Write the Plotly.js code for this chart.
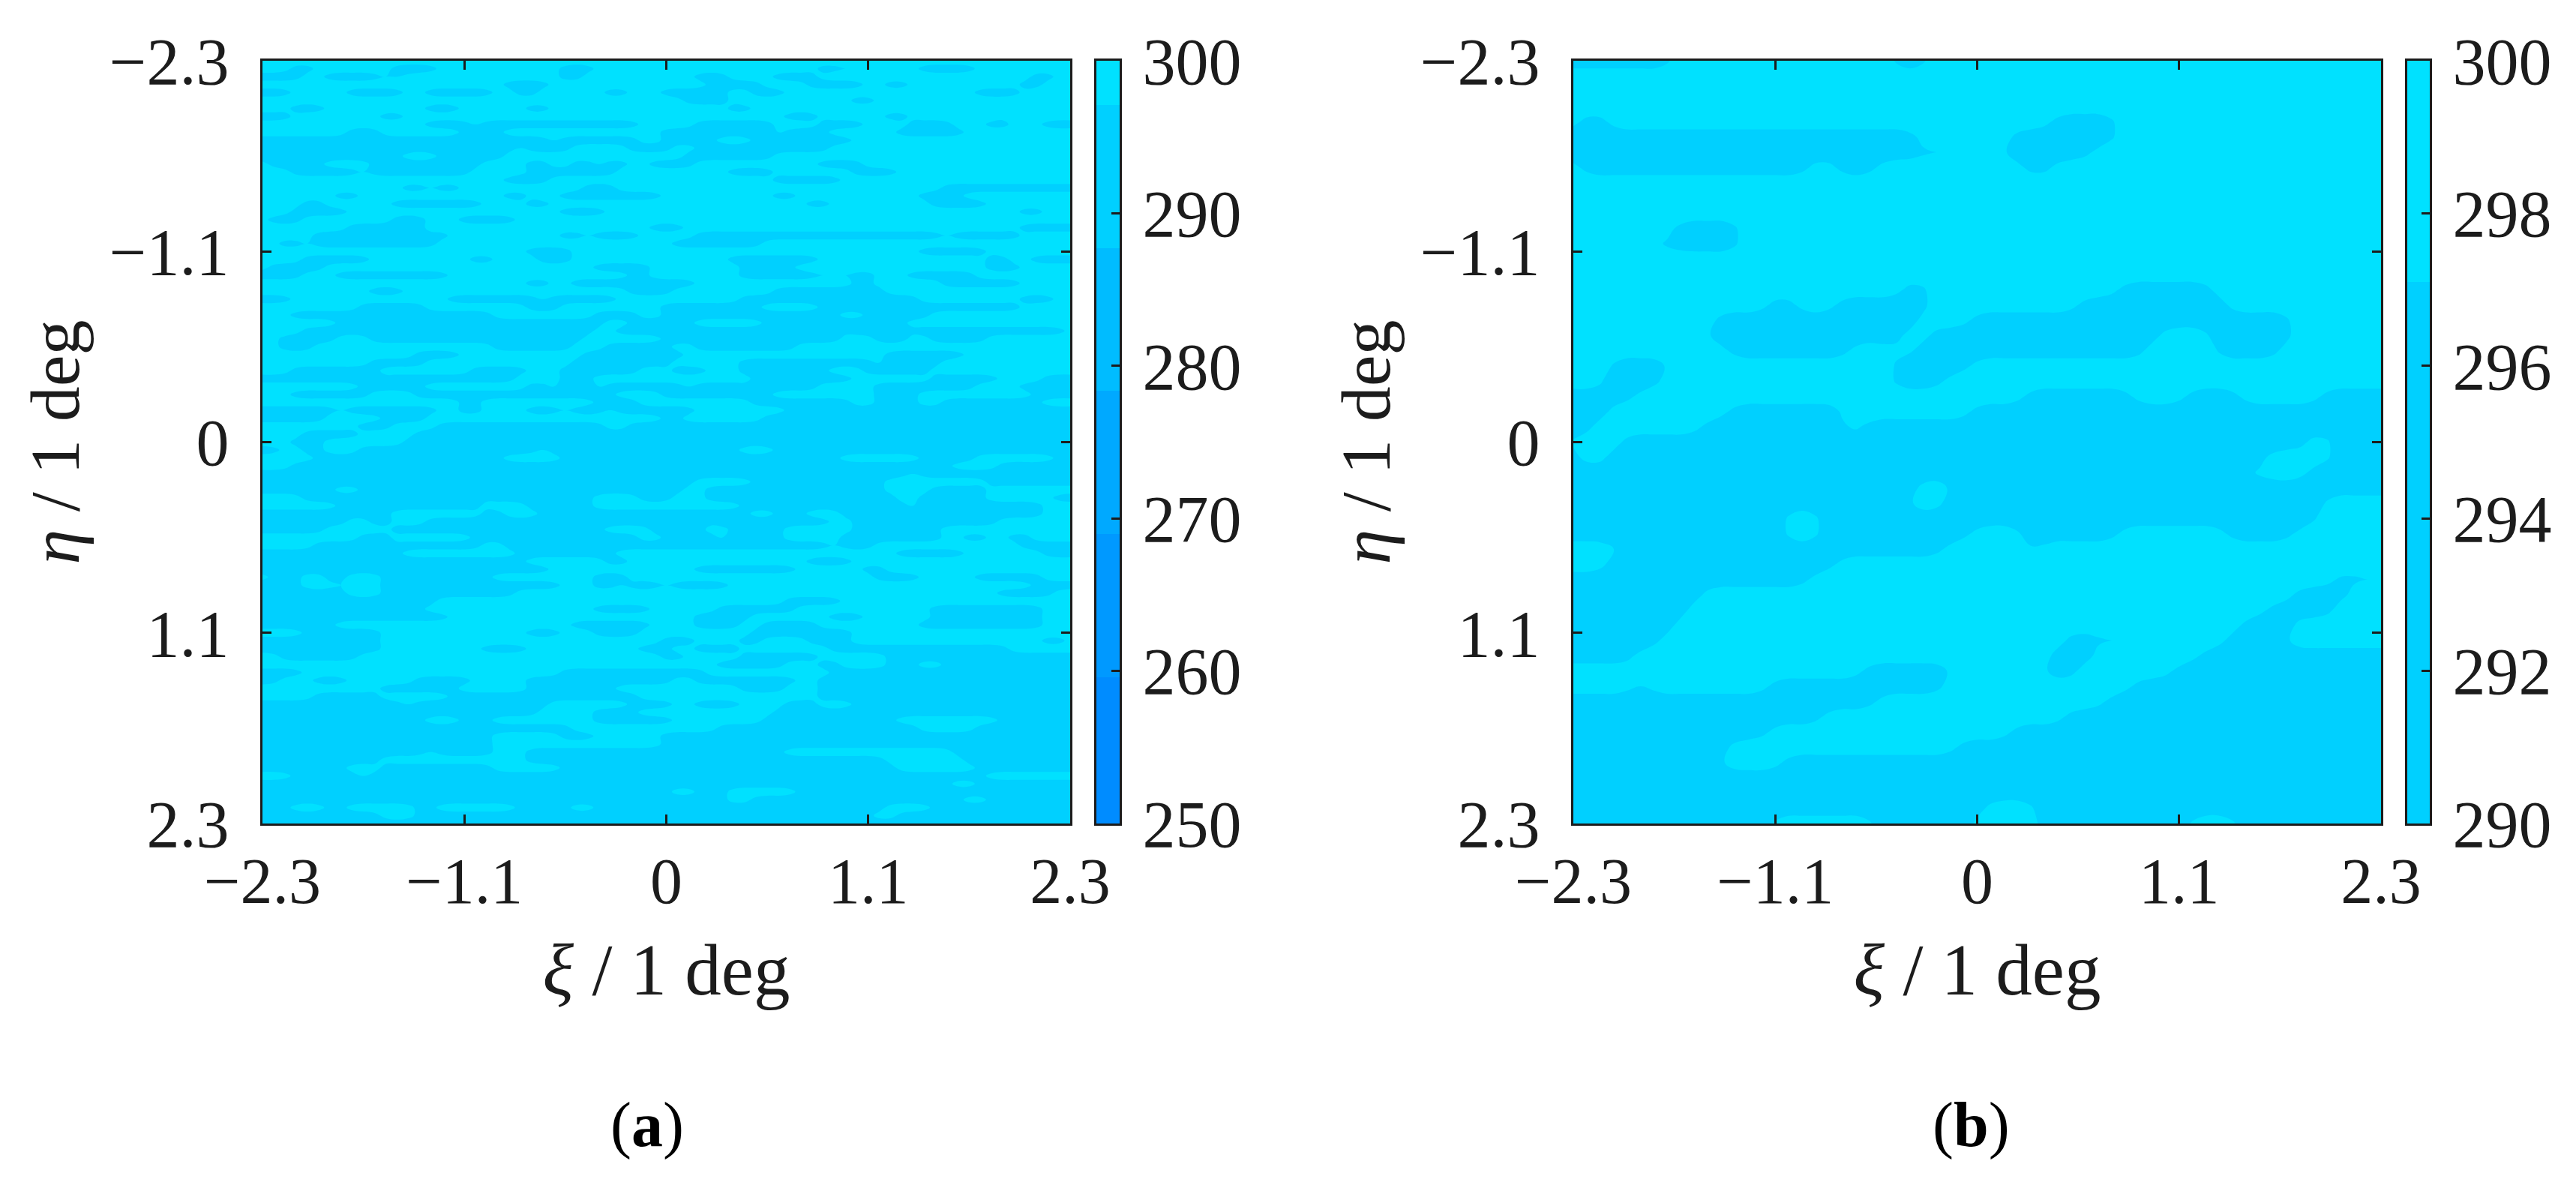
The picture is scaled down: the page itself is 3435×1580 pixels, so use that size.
<!DOCTYPE html>
<html>
<head>
<meta charset="utf-8">
<script src="https://cdn.plot.ly/plotly-3.0.1.min.js"></script>
<style>html,body{margin:0;padding:0;background:#fff}#c{width:3435px;height:1580px}</style>
</head>
<body>
<div id="c"></div>
<script>
// Readings. Each row lists the [from, to] grid columns lying in the cooler band.
const warmK = 298.6;
const coolK = 295.6;
const tickVals = [-2.3, -1.15, 0, 1.15, 2.3];
const tickText = ['\u22122.3', '\u22121.1', '0', '1.1', '2.3'];
const levelStart = 259.6, levelEnd = 297.1, levelSize = 9.375;
const bandColors = ['#008cff', '#0099ff', '#00a9ff', '#00bcff', '#00d0ff', '#00e1ff'];
const barEdgesA = [250, 259.6, 268.975, 278.35, 287.725, 297.1, 300];
const barEdgesB = [290, 297.1, 300];
const barTicksA = [250, 260, 270, 280, 290, 300];
const barTicksB = [290, 292, 294, 296, 298, 300];

const coolRowsA = [
[],
[[3,4],[12,15],[27,29],[50,51],[53,53],[59,62],[63,63]],
[[0,2],[3,3],[6,10],[12,12],[27,28],[39,41],[46,48],[49,49],[69,70]],
[[22,25],[40,44],[49,53],[56,57],[68,69]],
[[0,2],[8,12],[15,20],[23,24],[27,27],[31,32],[36,37],[38,41],[44,46],[64,67]],
[[38,41],[53,54]],
[[3,5],[15,17],[24,25],[42,43],[59,59]],
[[0,2],[11,12],[47,49],[56,57],[67,67]],
[[15,16],[17,18],[20,33],[39,45],[50,53],[58,61],[65,66],[70,72]],
[[8,10],[18,21],[36,45],[47,50],[57,62]],
[[0,25],[27,33],[36,40],[44,52]],
[[0,22],[24,27],[33,36],[39,50]],
[[0,12],[16,21],[38,45]],
[[1,5],[10,19],[24,25],[28,29],[31,32],[35,38],[50,53]],
[[3,8],[10,18],[24,31],[42,45],[53,56]],
[[22,25],[46,47],[48,51]],
[[13,14],[16,17],[29,31],[61,72]],
[[7,8],[22,23],[27,35],[46,47],[59,62]],
[[4,5],[12,15],[16,19],[24,25],[49,50],[60,64]],
[[3,7],[27,30],[68,69]],
[[1,3],[12,14],[18,19],[20,22]],
[[8,14],[35,37],[68,72]],
[[5,13],[15,16],[27,28],[30,33],[39,48],[49,60],[62,67]],
[[2,3],[5,15],[37,44]],
[[24,27],[59,61],[62,64]],
[[4,9],[19,20],[25,27],[42,45],[46,49],[65,66],[69,72]],
[[1,5],[30,34],[43,47],[65,67]],
[[0,3],[7,16],[33,34],[43,49],[51,51],[53,54],[58,63]],
[[24,25],[28,35],[36,38],[53,54],[61,63],[64,67]],
[[10,12],[33,36],[46,55]],
[[0,2],[17,24],[26,31],[43,58],[68,70]],
[[9,14],[24,26],[36,44],[50,67]],
[[3,14],[15,20],[30,33],[36,44],[45,51],[54,59]],
[[7,12],[13,30],[33,38],[45,47],[49,57]],
[[4,10],[11,29],[32,50],[52,56],[58,71]],
[[2,6],[10,16],[17,28],[36,51],[55,57],[60,64]],
[[2,4],[21,27],[31,36],[39,47]],
[[14,17],[29,37],[56,58],[59,62]],
[[10,14],[28,36],[43,54],[56,60]],
[[3,10],[19,23],[27,33],[37,39],[43,50],[54,59]],
[[0,3],[4,9],[11,22],[27,29],[44,52],[60,65],[70,72]],
[[9,14],[24,25],[27,29],[31,37],[39,43],[45,49],[55,63],[68,72]],
[[3,9],[14,31],[36,45],[55,58],[69,72]],
[[18,19],[30,33],[44,46],[47,52],[55,58],[61,69]],
[[0,6],[8,15],[18,19],[24,26],[28,30],[32,38],[47,72]],
[[0,5],[11,14],[36,37],[45,72]],
[[9,11],[16,30],[33,72]],
[[4,8],[14,24],[26,34],[36,72]],
[[3,5],[13,72]],
[[0,1],[4,5],[9,24],[26,38],[40,42],[46,72]],
[[5,21],[27,36],[38,51],[59,63],[71,72]],
[[3,16],[18,36],[37,49],[50,61],[66,72]],
[[0,15],[16,57],[59,72]],
[[0,27],[28,38],[44,55],[65,72]],
[[0,6],[9,37],[40,55],[60,64]],
[[4,18],[20,29],[34,36],[40,49],[50,52],[53,56],[59,64],[71,72]],
[[7,19],[24,29],[43,46],[47,57],[59,69]],
[[0,11],[20,21],[25,43],[46,48],[52,69]],
[[0,7],[10,11],[15,29],[30,38],[40,50],[53,65]],
[[0,5],[12,19],[20,30],[35,36],[38,39],[42,46],[53,60]],
[[9,11],[19,33],[36,37],[38,40],[42,46],[52,60],[63,64],[67,68]],
[[5,10],[12,19],[22,50],[52,54],[68,72]],
[[0,12],[23,31],[57,62],[70,72]],
[[0,23],[31,32],[49,52]],
[[0,22],[23,25],[39,47],[54,55]],
[[1,3],[6,7],[11,20],[30,32],[55,58],[64,69]],
[[0,3],[7,7],[11,15],[16,26],[30,31],[33,35],[37,41],[69,72]],
[[0,7],[11,15],[16,22],[66,70]],
[[0,15],[47,51]],
[[0,14],[30,34],[41,47],[60,69]],
[[0,7],[8,14],[15,16],[39,43],[51,53],[60,69]],
[[0,6],[28,29],[30,34],[39,42],[45,49],[59,69]],
[[4,10],[24,26],[30,33],[44,52]],
[[0,10],[36,38],[43,44],[49,52],[70,71]],
[[0,10],[20,23],[34,36],[39,42],[51,56],[57,66]],
[[2,8],[36,37],[43,49],[56,72]],
[[41,46],[50,51],[56,58],[61,64],[65,72]],
[[0,3],[27,39],[51,72]],
[[0,1],[5,7],[14,18],[24,33],[34,36],[39,42],[43,47],[50,72]],
[[11,13],[14,17],[24,31],[43,46],[50,72]],
[[5,10],[17,23],[24,33],[50,72]],
[[0,12],[14,25],[33,36],[39,42],[47,49],[53,72]],
[[0,24],[30,33],[46,72]],
[[0,14],[18,20],[30,36],[45,56],[66,72]],
[[0,20],[21,27],[41,58],[64,72]],
[[0,12],[13,20],[27,29],[36,72]],
[[0,13],[15,20],[36,72]],
[[0,14],[16,20],[24,27],[28,46],[62,72]],
[[0,10],[24,27],[28,34],[36,55],[63,72]],
[[0,7],[11,20],[27,56],[64,72]],
[[3,8],[10,20],[21,64]],
[[0,8],[10,61],[64,72]],
[[0,34],[35,36],[39,41],[48,72]],
[[0,24],[26,41],[44,62],[65,72]],
[[0,2],[6,7],[14,15],[23,27],[30,55],[60,72]],
[[0,10],[14,36],[38,54],[57,72]],
[[0,72]]
];

const coolRowsB = [
[[0,7],[24,26]],
[],[],[],
[[1,2],[36,40]],
[[0,25],[33,40]],
[[0,29],[32,38]],
[[1,8],[9,17],[20,22],[34,35]],
[],[],[],
[[8,12]],
[[6,12],[33,36]],
[],[],
[[25,26],[41,47]],
[[15,16],[20,26],[38,48]],
[[11,25],[30,53]],
[[10,24],[27,43],[48,53]],
[[12,20],[26,42],[48,52]],
[[3,7],[24,29]],
[[3,6],[24,27]],
[[0,4],[34,41],[46,49],[56,60]],
[[0,2],[12,20],[30,60]],
[[0,1],[10,19],[22,60]],
[[4,54],[57,60]],
[[0,0],[3,51],[57,60]],
[[0,49],[55,60]],
[[0,25],[29,60]],
[[0,24],[28,55]],
[[0,15],[19,55]],
[[0,3],[7,15],[19,29],[34,40],[49,53]],
[[4,27],[34,34]],
[[3,19]],
[[0,17],[57,60]],
[[0,9],[54,57]],
[[0,8],[52,56]],
[[0,7],[50,53]],
[[0,6],[37,43],[49,52]],
[[0,4],[36,38],[47,60]],
[[22,28],[35,37],[45,60]],
[[5,5],[15,27],[42,60]],
[[0,22],[40,60]],
[[0,18],[37,60]],
[[0,14],[33,60]],
[[0,11],[29,60]],
[[0,10],[16,60]],
[[0,60]],
[[0,60]],
[[0,30],[35,60]],
[[0,14],[23,29],[35,45],[50,60]]
];

// Readings are band memberships; a short tapered average rounds their staircase edges.
function temperatures(rows, nCols, alongRows) {
  const raw = rows.map(function (spans) {
    const out = [];
    for (let c = 0; c <= nCols; c++) {
      out.push(spans.some(function (s) { return c >= s[0] && c <= s[1]; }) ? coolK : warmK);
    }
    return out;
  });
  const at = function (r, c) {
    return raw[Math.max(0, Math.min(raw.length - 1, r))][Math.max(0, Math.min(nCols, c))];
  };
  return raw.map(function (row, r) {
    return row.map(function (v, c) {
      const h = (at(r, c - 1) + 2 * v + at(r, c + 1)) / 4;
      if (!alongRows) return h;
      const up = (at(r - 1, c - 1) + 2 * at(r - 1, c) + at(r - 1, c + 1)) / 4;
      const dn = (at(r + 1, c - 1) + 2 * at(r + 1, c) + at(r + 1, c + 1)) / 4;
      return (up + 2 * h + dn) / 4;
    });
  });
}
function axisGrid(n) {
  const out = [];
  for (let i = 0; i < n; i++) out.push(-2.3 + 4.6 * i / (n - 1));
  return out;
}
const W = 3435, H = 1580;
const serif = '"Liberation Serif", "DejaVu Serif", serif';
const ink = '#1c1c1c';
const scale = bandColors.map(function (c, i) { return [i / (bandColors.length - 1), c]; });

function field(rows, nCols, xa, ya, alongRows) {
  return {
    type: 'contour', x: axisGrid(nCols + 1), y: axisGrid(rows.length), z: temperatures(rows, nCols, alongRows),
    xaxis: xa, yaxis: ya, colorscale: scale, showscale: false, autocontour: false,
    contours: { start: levelStart, end: levelEnd, size: levelSize, coloring: 'fill', showlines: false },
    line: { width: 0, smoothing: 1.2 }, hoverinfo: 'skip'
  };
}
function barTrace(edges, first, xa, ya) {
  const z = [];
  for (let i = 0; i < edges.length - 1; i++) z.push([first + i]);
  return {
    type: 'heatmap', x: [0, 1], y: edges, z: z, xaxis: xa, yaxis: ya, colorscale: scale,
    zmin: 0, zmax: bandColors.length - 1, showscale: false, hoverinfo: 'skip'
  };
}
function frameX(x0, x1, title, anchor) {
  return {
    domain: [x0 / W, x1 / W], range: [-2.3, 2.3], anchor: anchor, tickmode: 'array', tickvals: tickVals, ticktext: tickText,
    ticks: 'inside', ticklen: 12, tickwidth: 3, tickcolor: ink, showline: true, linewidth: 3, linecolor: ink, mirror: 'ticks',
    showgrid: false, zeroline: false, ticklabelstandoff: 0, tickfont: { family: serif, size: 86, color: ink },
    title: { text: title, font: { family: serif, size: 97, color: ink }, standoff: 36 }
  };
}
function frameY(title, anchor) {
  return {
    domain: [1 - 1098 / H, 1 - 81 / H], range: [2.3, -2.3], anchor: anchor, tickmode: 'array', tickvals: tickVals, ticktext: tickText,
    ticks: 'inside', ticklen: 12, tickwidth: 3, tickcolor: ink, showline: true, linewidth: 3, linecolor: ink, mirror: 'ticks',
    showgrid: false, zeroline: false, ticklabelstandoff: 24, tickfont: { family: serif, size: 88, color: ink },
    title: { text: title, font: { family: serif, size: 94, color: ink }, standoff: 9 }
  };
}
function barX(x0, x1, anchor) {
  return { domain: [x0 / W, x1 / W], range: [0, 1], anchor: anchor, showticklabels: false, ticks: '', showgrid: false, zeroline: false,
           showline: true, linewidth: 3, linecolor: ink, mirror: true };
}
function barY(lo, ticks, anchor) {
  return { domain: [1 - 1098 / H, 1 - 81 / H], range: [lo, 300], anchor: anchor, side: 'right', tickmode: 'array', tickvals: ticks,
           ticktext: ticks.map(String), ticks: 'inside', ticklen: 11, tickwidth: 3, tickcolor: ink, showgrid: false, zeroline: false,
           showline: true, linewidth: 3, linecolor: ink, mirror: true, ticklabelstandoff: 10,
           tickfont: { family: serif, size: 88, color: ink } };
}

const xiTitle = '<i>\u03BE</i> / 1 deg';
const etaTitle = '<i>\u03B7</i> / 1 deg';
const data = [
  field(coolRowsA, 72, 'x', 'y', false),
  field(coolRowsB, 60, 'x2', 'y2', true),
  barTrace(barEdgesA, 0, 'x3', 'y3'),
  barTrace(barEdgesB, 4, 'x4', 'y4')
];
const layout = {
  width: W, height: H, margin: { l: 0, r: 0, t: 0, b: 0 }, paper_bgcolor: '#fff', plot_bgcolor: '#fff', showlegend: false,
  xaxis: frameX(350, 1427, xiTitle, 'y'), yaxis: frameY(etaTitle, 'x'),
  xaxis2: frameX(2098, 3175, xiTitle, 'y2'), yaxis2: frameY(etaTitle, 'x2'),
  xaxis3: barX(1462, 1493, 'y3'), yaxis3: barY(250, barTicksA, 'x3'),
  xaxis4: barX(3210, 3240, 'y4'), yaxis4: barY(290, barTicksB, 'x4'),
  annotations: [
    { text: '(<b>a</b>)', xref: 'paper', yref: 'paper', x: 863 / W, y: 1 - 1500 / H, showarrow: false, xanchor: 'center', yanchor: 'middle', font: { family: serif, size: 84, color: '#000' } },
    { text: '(<b>b</b>)', xref: 'paper', yref: 'paper', x: 2628 / W, y: 1 - 1500 / H, showarrow: false, xanchor: 'center', yanchor: 'middle', font: { family: serif, size: 84, color: '#000' } }
  ]
};
Plotly.newPlot('c', data, layout, { displayModeBar: false, staticPlot: true });
</script>
</body>
</html>
